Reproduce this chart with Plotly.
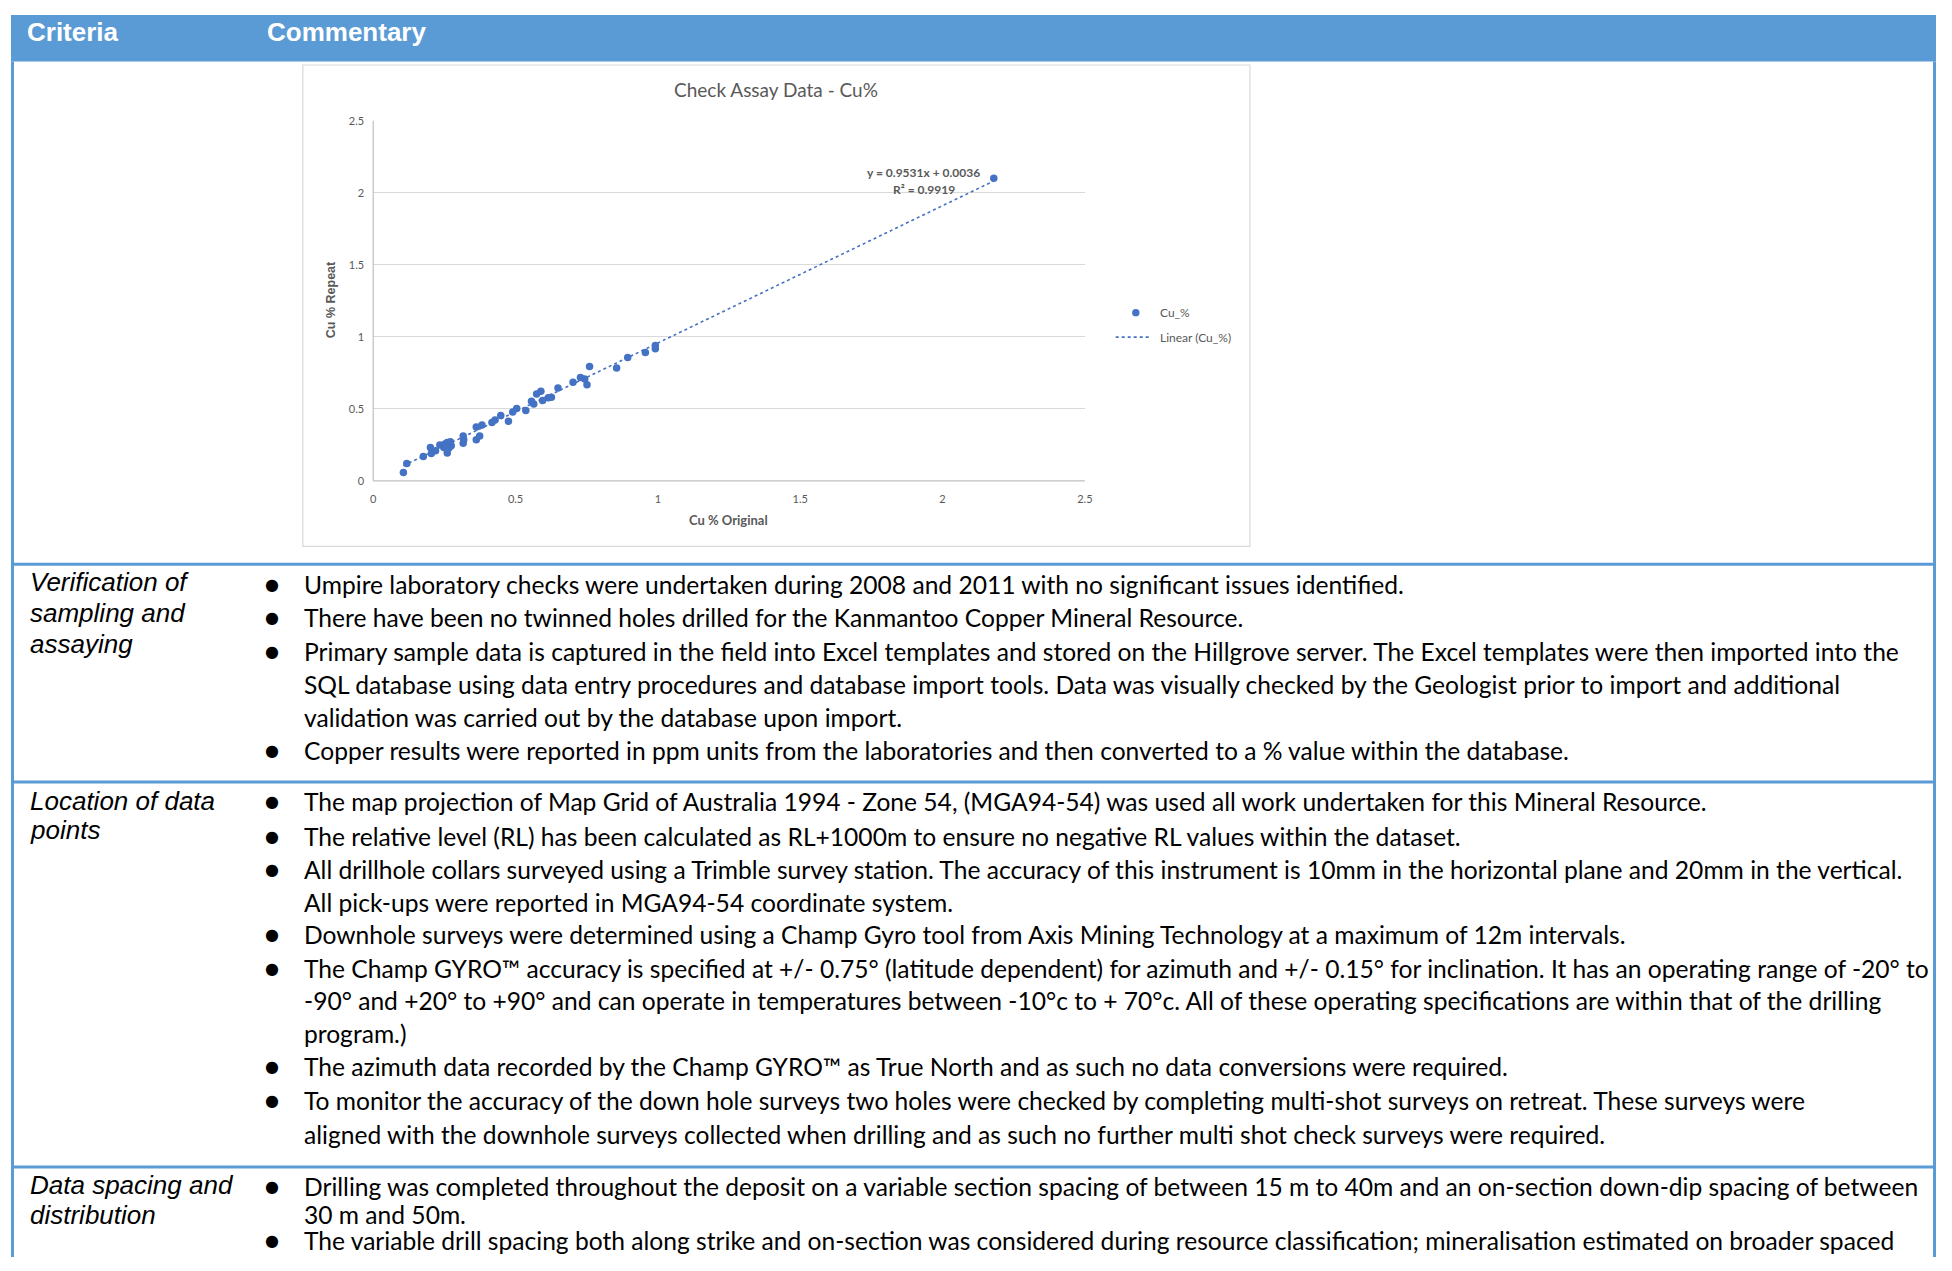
import plotly.graph_objects as go

# ---------------- data ----------------
cu_original = [0.106, 0.118, 0.176, 0.201, 0.204, 0.219, 0.234, 0.248, 0.252, 0.260,
               0.271, 0.260, 0.274, 0.266, 0.316, 0.316, 0.318, 0.362, 0.374, 0.362,
               0.382, 0.417, 0.428, 0.448, 0.475, 0.490, 0.504, 0.536, 0.556, 0.564,
               0.574, 0.589, 0.595, 0.615, 0.626, 0.649, 0.702, 0.728, 0.743, 0.751,
               0.760, 0.855, 0.894, 0.956, 0.991, 0.991, 2.180]
cu_repeat = [0.058, 0.120, 0.168, 0.232, 0.190, 0.209, 0.248, 0.232, 0.255, 0.266,
             0.271, 0.193, 0.243, 0.228, 0.312, 0.261, 0.285, 0.285, 0.312, 0.374,
             0.388, 0.404, 0.422, 0.454, 0.413, 0.477, 0.502, 0.488, 0.553, 0.534,
             0.603, 0.622, 0.557, 0.576, 0.580, 0.644, 0.684, 0.718, 0.706, 0.667,
             0.794, 0.783, 0.856, 0.890, 0.917, 0.940, 2.100]
trend_slope = 0.9531
trend_intercept = 0.0036
trend_r2 = 0.9919
x_ticks = [0, 0.5, 1, 1.5, 2, 2.5]
y_ticks = [0, 0.5, 1, 1.5, 2, 2.5]

header_labels = ["Criteria", "Commentary"]
row_criteria = [
    ["Verification of", "sampling and", "assaying"],
    ["Location of data", "points"],
    ["Data spacing and", "distribution"],
]
row_lines = [
    [(True, "Umpire laboratory checks were undertaken during 2008 and 2011 with no significant issues identified."),
     (True, "There have been no twinned holes drilled for the Kanmantoo Copper Mineral Resource."),
     (True, "Primary sample data is captured in the field into Excel templates and stored on the Hillgrove server. The Excel templates were then imported into the"),
     (False, "SQL database using data entry procedures and database import tools. Data was visually checked by the Geologist prior to import and additional"),
     (False, "validation was carried out by the database upon import."),
     (True, "Copper results were reported in ppm units from the laboratories and then converted to a % value within the database.")],
    [(True, "The map projection of Map Grid of Australia 1994 - Zone 54, (MGA94-54) was used all work undertaken for this Mineral Resource."),
     (True, "The relative level (RL) has been calculated as RL+1000m to ensure no negative RL values within the dataset."),
     (True, "All drillhole collars surveyed using a Trimble survey station. The accuracy of this instrument is 10mm in the horizontal plane and 20mm in the vertical."),
     (False, "All pick-ups were reported in MGA94-54 coordinate system."),
     (True, "Downhole surveys were determined using a Champ Gyro tool from Axis Mining Technology at a maximum of 12m intervals."),
     (True, "The Champ GYRO\u2122 accuracy is specified at +/- 0.75\u00b0 (latitude dependent) for azimuth and +/- 0.15\u00b0 for inclination. It has an operating range of -20\u00b0 to"),
     (False, "-90\u00b0 and +20\u00b0 to +90\u00b0 and can operate in temperatures between -10\u00b0c to + 70\u00b0c. All of these operating specifications are within that of the drilling"),
     (False, "program.)"),
     (True, "The azimuth data recorded by the Champ GYRO\u2122 as True North and as such no data conversions were required."),
     (True, "To monitor the accuracy of the down hole surveys two holes were checked by completing multi-shot surveys on retreat. These surveys were"),
     (False, "aligned with the downhole surveys collected when drilling and as such no further multi shot check surveys were required.")],
    [(True, "Drilling was completed throughout the deposit on a variable section spacing of between 15 m to 40m and an on-section down-dip spacing of between"),
     (False, "30 m and 50m."),
     (True, "The variable drill spacing both along strike and on-section was considered during resource classification; mineralisation estimated on broader spaced")],
]

# ---------------- layout helpers ----------------
# The page body keeps its default 8px margin, so the figure is sized to fit
# inside the 1952x1271 window and page coordinates are shifted by 8px.
PAGE_W, PAGE_H, OFF = 1952, 1271, 8
W, H = PAGE_W - 2 * OFF, PAGE_H - 2 * OFF
def px(x):
    return (x - OFF) / W
def py(y):
    return 1 - (y - OFF) / H

BLUE = "#5B9BD5"
GREY = "#595959"
BODY_FONT = "Lato"
CRIT_FONT = "Liberation Sans"

# plot-area pixels (page coordinates)
PL, PR, PT, PB = 372.3, 1088.0, 114.8, 478.7

fig = go.Figure()

trend_x = [min(cu_original), max(cu_original)]
trend_y = [trend_slope * v + trend_intercept for v in trend_x]

fig.add_trace(go.Scatter(x=cu_original, y=cu_repeat, mode="markers", name="Cu_%",
                         marker=dict(color="#4472C4", size=7.5), showlegend=False))
fig.add_trace(go.Scatter(x=trend_x, y=trend_y, mode="lines", name="Linear (Cu_%)",
                         line=dict(color="#4472C4", width=1.6, dash="dot"), showlegend=False))

fig.update_layout(
    width=W, height=H, margin=dict(l=0, r=0, t=0, b=0),
    paper_bgcolor="white", plot_bgcolor="white", showlegend=False,
    xaxis=dict(domain=[px(PL), px(PR)], range=[0, 2.5], tickvals=x_ticks,
               ticktext=[f"{v:g}" for v in x_ticks], showgrid=False, zeroline=False,
               showline=False, ticks="", tickfont=dict(family=BODY_FONT, size=11, color=GREY),
               ticklabelstandoff=10),
    yaxis=dict(domain=[py(PB), py(PT)], range=[0, 2.5], tickvals=y_ticks,
               ticktext=[f"{v:g}" for v in y_ticks], showgrid=True, gridcolor="#D9D9D9",
               gridwidth=1, zeroline=False, showline=False, ticks="",
               tickfont=dict(family=BODY_FONT, size=11, color=GREY), ticklabelstandoff=8),
)

shapes = []
# header bar
shapes.append(dict(type="rect", xref="paper", yref="paper", x0=px(OFF), x1=px(PAGE_W - OFF), y0=py(55), y1=py(OFF),
                   fillcolor=BLUE, line=dict(width=0), layer="below"))
# table borders
shapes.append(dict(type="line", xref="paper", yref="paper", x0=px(9.5), x1=px(9.5), y0=py(55), y1=py(PAGE_H - OFF),
                   line=dict(color=BLUE, width=3)))
shapes.append(dict(type="line", xref="paper", yref="paper", x0=px(1942.5), x1=px(1942.5), y0=py(55), y1=py(PAGE_H - OFF),
                   line=dict(color=BLUE, width=3)))
for yy in [563, 783, 1172]:
    shapes.append(dict(type="line", xref="paper", yref="paper", x0=px(OFF), x1=px(PAGE_W - OFF), y0=py(yy), y1=py(yy),
                       line=dict(color=BLUE, width=3)))
# chart box
shapes.append(dict(type="rect", xref="paper", yref="paper", x0=px(301.5), x1=px(1254), y0=py(545), y1=py(58.5),
                   fillcolor="rgba(0,0,0,0)", line=dict(color="#D9D9D9", width=1.2)))
# axes lines
shapes.append(dict(type="line", xref="paper", yref="paper", x0=px(PL), x1=px(PR), y0=py(PB), y1=py(PB),
                   line=dict(color="#BFBFBF", width=1.2)))
shapes.append(dict(type="line", xref="paper", yref="paper", x0=px(PL), x1=px(PL), y0=py(PB), y1=py(PT),
                   line=dict(color="#BFBFBF", width=1.2)))
# legend symbols
shapes.append(dict(type="circle", xref="paper", yref="paper", x0=px(1135.5), x1=px(1143), y0=py(312.5), y1=py(305),
                   fillcolor="#4472C4", line=dict(width=0)))
shapes.append(dict(type="line", xref="paper", yref="paper", x0=px(1119), x1=px(1155), y0=py(333.5), y1=py(333.5),
                   line=dict(color="#4472C4", width=1.6, dash="dot")))
fig.update_layout(shapes=shapes)

ann = []
def text(x, y, s, size, color="black", family=BODY_FONT, xanchor="left", bold=False, italic=False, angle=0):
    if bold:
        s = f"<b>{s}</b>"
    if italic:
        s = f"<i>{s}</i>"
    ann.append(dict(x=px(x), y=py(y), xref="paper", yref="paper", text=s, showarrow=False,
                    xanchor=xanchor, yanchor="middle", textangle=angle,
                    font=dict(family=family, size=size, color=color)))

# header
text(22, 25, header_labels[0], 26, color="white", family=CRIT_FONT, bold=True)
text(263, 25, header_labels[1], 26, color="white", family=CRIT_FONT, bold=True)

# chart texts
text(777, 83, "Check Assay Data - Cu%", 19, color=GREY, xanchor="center")
text(730, 518, "Cu % Original", 13, color=GREY, xanchor="center", bold=True)
text(330, 296, "Cu % Repeat", 12.5, color=GREY, family=CRIT_FONT, xanchor="center", bold=True, angle=-90)
text(926, 167, f"y = {trend_slope}x + {trend_intercept}", 12, color=GREY, xanchor="center", bold=True)
text(926, 184, f"R\u00b2 = {trend_r2}", 12, color=GREY, xanchor="center", bold=True)
text(1162, 308.5, "Cu_%", 12, color=GREY)
text(1162, 333.5, "Linear (Cu_%)", 12, color=GREY)

# table rows
crit_y = [[581, 612.5, 643.5], [802, 832], [1190, 1220.5]]
line_y = [[583, 616.5, 651, 684.5, 717.5, 751],
          [803, 838, 871.5, 904.5, 937.5, 971, 1003.5, 1037, 1070.5, 1104.5, 1139],
          [1191.5, 1220.5, 1246.5]]
for r in range(3):
    for s, yy in zip(row_criteria[r], crit_y[r]):
        text(25, yy, s, 26, family=CRIT_FONT, italic=True)
    for (bullet, s), yy in zip(row_lines[r], line_y[r]):
        if bullet:
            text(270, yy, "\u25cf", 16, family="DejaVu Sans", xanchor="center")
        text(301, yy, s, 24.6)

fig.update_layout(annotations=ann)

fig.write_html("out.html", config={"displayModeBar": False})
